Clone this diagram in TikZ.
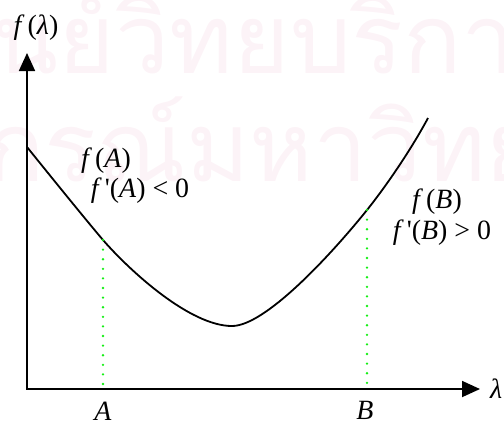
\documentclass[tikz,border=0pt]{standalone}
\usepackage{fontspec}
\usetikzlibrary{arrows.meta}
\newfontfamily\tnr{Liberation Serif}
\newfontfamily\thaifont[Script=Thai]{Loma}
\definecolor{wmpink}{RGB}{252,243,247}
\definecolor{dotgreen}{RGB}{20,238,20}
\newcommand{\vi}[1]{\textit{#1}}
\newcommand{\fk}{\vi{f}\kern3bp}
\begin{document}
\begin{tikzpicture}[x=1bp,y=-1bp,
  lbl/.style={font=\tnr\fontsize{28}{32}\selectfont, inner sep=0pt},
  axisline/.style={line width=1.8bp, {Triangle[length=18bp,width=16bp]}-{Triangle[length=18bp,width=16bp]}},
  curveline/.style={line width=1.8bp},
  guide/.style={dotgreen, line width=2.6bp, dash pattern=on 0bp off 9.6bp, line cap=round},
  wm/.style={font=\thaifont\fontsize{97}{97}\selectfont, text=wmpink, inner sep=0pt}]
\useasboundingbox (0,0) rectangle (504,422);
\begin{scope}
\clip (0,0) rectangle (504,422);
\node[wm, anchor=base east] (wm1a) at (290,73) {ศูนย์วิทย};
\node[wm, anchor=base west] (wm1b) at (290,73) {บริการ};
\node[wm, anchor=base east] (wm2a) at (-14,181) {จุฬาลง};
\node[wm, anchor=base west] (wm2b) at (-14,181) {กรณ์มหาวิทยาลัย};
\end{scope}
% axes
\coordinate (O) at (27,389);
\coordinate (ytip) at (27,53);
\coordinate (xtip) at (480,389);
\draw[axisline] (ytip) -- (O) -- (xtip);
% curve
\coordinate (P0) at (27,147);
\coordinate (Apt) at (103,240);
\coordinate (Mpt) at (232,326);
\coordinate (Bpt) at (367,210);
\coordinate (Ept) at (428,118);
\coordinate (Afoot) at (103,386);
\coordinate (Bfoot) at (367,386);
\draw[curveline] (P0) .. controls (52,178) and (86,220) .. (Apt)
  .. controls (130,271) and (190,326) .. (Mpt)
  .. controls (265,326) and (330,256) .. (Bpt)
  .. controls (387,185) and (412,148) .. (Ept);
\draw[guide] (Apt) -- (Afoot);
\draw[guide] (Bpt) -- (Bfoot);
% labels
\node[lbl] (flam) at (36,28) {\fk(\vi{λ})};
\node[lbl, anchor=west] (lam) at (490,389) {\vi{λ}};
\node[lbl] (Alab) at (103,411) {\vi{A}};
\node[lbl] (Blab) at (365,410) {\vi{B}};
\node[lbl] (fA) at (106,161) {\fk(\vi{A})};
\node[lbl] (dfA) at (140,191) {\fk'(\vi{A}) < 0};
\node[lbl] (fB) at (437,202) {\fk(\vi{B})};
\node[lbl] (dfB) at (442,233) {\fk'(\vi{B}) > 0};
\end{tikzpicture}
\end{document}
